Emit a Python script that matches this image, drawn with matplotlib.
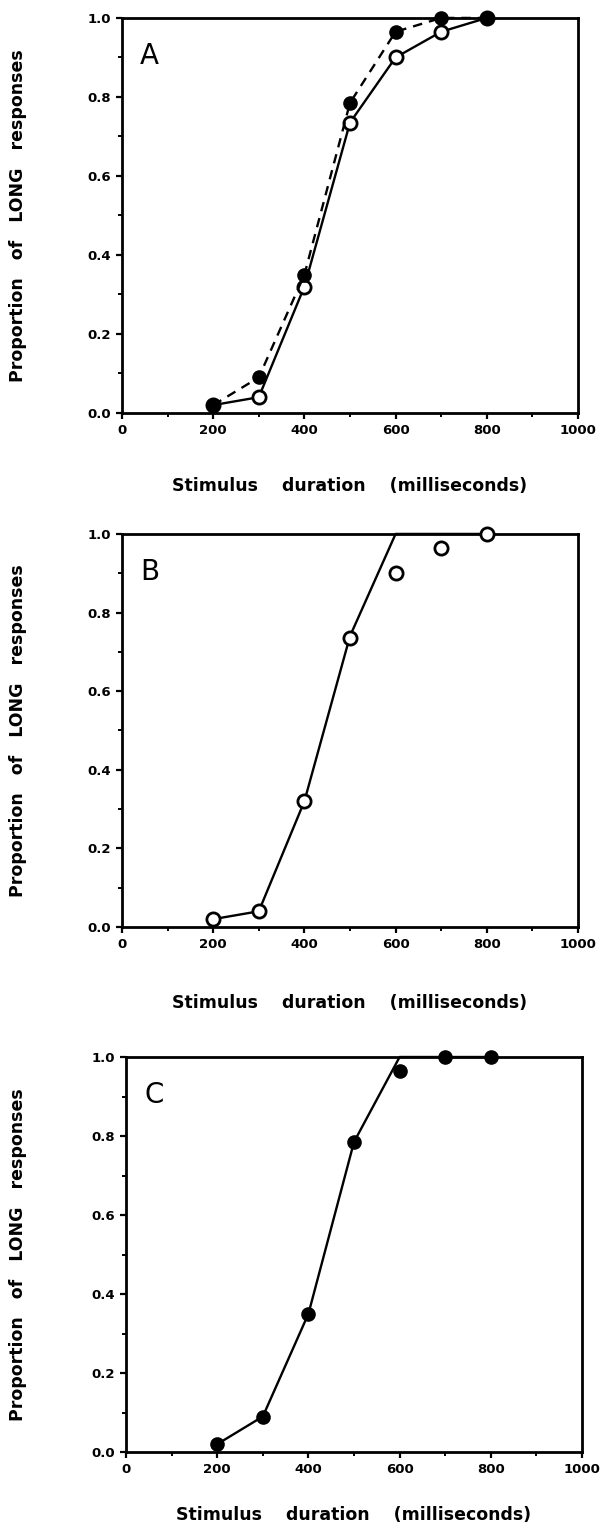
# three panels: proportion of LONG responses vs stimulus duration
import matplotlib
matplotlib.use('Agg')
import matplotlib.pyplot as plt
from matplotlib.ticker import MultipleLocator

plt.rcParams['font.family'] = 'DejaVu Sans'

# data
durations = [200, 300, 400, 500, 600, 700, 800]
filled_obs = [0.02, 0.09, 0.35, 0.785, 0.965, 1.0, 1.0]
open_obs = [0.02, 0.04, 0.32, 0.735, 0.90, 0.965, 1.0]
fit_b = [0.02, 0.04, 0.32, 0.74, 1.0, 1.0, 1.0]
fit_c = [0.02, 0.09, 0.35, 0.785, 1.0, 1.0, 1.0]

xlabel = 'Stimulus    duration    (milliseconds)'
ylabel = 'Proportion   of   LONG   responses'

fig = plt.figure(figsize=(6.01, 15.33), dpi=100)

# axes rectangles in figure fractions
ax_a = fig.add_axes([0.203, 0.7306, 0.7587, 0.2577])
ax_b = fig.add_axes([0.203, 0.3953, 0.7587, 0.2564])
ax_c = fig.add_axes([0.2097, 0.0528, 0.7587, 0.2577])


def style(ax, letter, xlab_y, ylab_x):
    ax.set_xlim(0, 1000)
    ax.set_ylim(0, 1.0)
    ax.xaxis.set_major_locator(MultipleLocator(200))
    ax.xaxis.set_minor_locator(MultipleLocator(100))
    ax.yaxis.set_major_locator(MultipleLocator(0.2))
    ax.yaxis.set_minor_locator(MultipleLocator(0.1))
    ax.tick_params(which='major', direction='out', length=4, width=1.6,
                   labelsize=9.5, pad=4)
    ax.tick_params(which='minor', direction='out', length=3, width=1.4)
    ax.set_xticks([0, 200, 400, 600, 800, 1000])
    ax.set_xticklabels(['0', '200', '400', '600', '800', '1000'], fontweight='bold')
    ax.set_yticks([0, 0.2, 0.4, 0.6, 0.8, 1.0])
    ax.set_yticklabels(['0.0', '0.2', '0.4', '0.6', '0.8', '1.0'], fontweight='bold')
    for s in ax.spines.values():
        s.set_linewidth(2.0)
    ax.set_xlabel(xlabel, fontsize=12.5, fontweight='bold', va='center')
    ax.xaxis.set_label_coords(0.5, xlab_y)
    ax.set_ylabel(ylabel, fontsize=12.5, fontweight='bold', va='center')
    ax.yaxis.set_label_coords(ylab_x, 0.5)
    ax.text(0.04, 0.94, letter, transform=ax.transAxes, fontsize=20,
            va='top', ha='left')


# panel A: open (solid) and filled (dashed)
ax_a.plot(durations, open_obs, '-', color='black', lw=1.7, marker='o',
          markersize=9.5, markerfacecolor='white', markeredgecolor='black',
          markeredgewidth=2.0, clip_on=False, zorder=3)
ax_a.plot(durations, filled_obs, '--', color='black', lw=1.7, dashes=(4, 3),
          marker='o', markersize=9.5, markerfacecolor='black',
          markeredgecolor='black', clip_on=False, zorder=4)
style(ax_a, 'A', -0.185, -0.228)

# panel B: open points with fitted line
ax_b.plot(durations, fit_b, '-', color='black', lw=1.7, clip_on=False, zorder=2)
ax_b.plot(durations, open_obs, 'o', markersize=9.5, markerfacecolor='white',
          markeredgecolor='black', markeredgewidth=2.0, clip_on=False, zorder=3)
style(ax_b, 'B', -0.193, -0.228)

# panel C: filled points with fitted line
ax_c.plot(durations, fit_c, '-', color='black', lw=1.7, clip_on=False, zorder=2)
ax_c.plot(durations, filled_obs, 'o', markersize=9.5, markerfacecolor='black',
          markeredgecolor='black', clip_on=False, zorder=3)
style(ax_c, 'C', -0.16, -0.237)

plt.savefig('out.png', dpi=100)
